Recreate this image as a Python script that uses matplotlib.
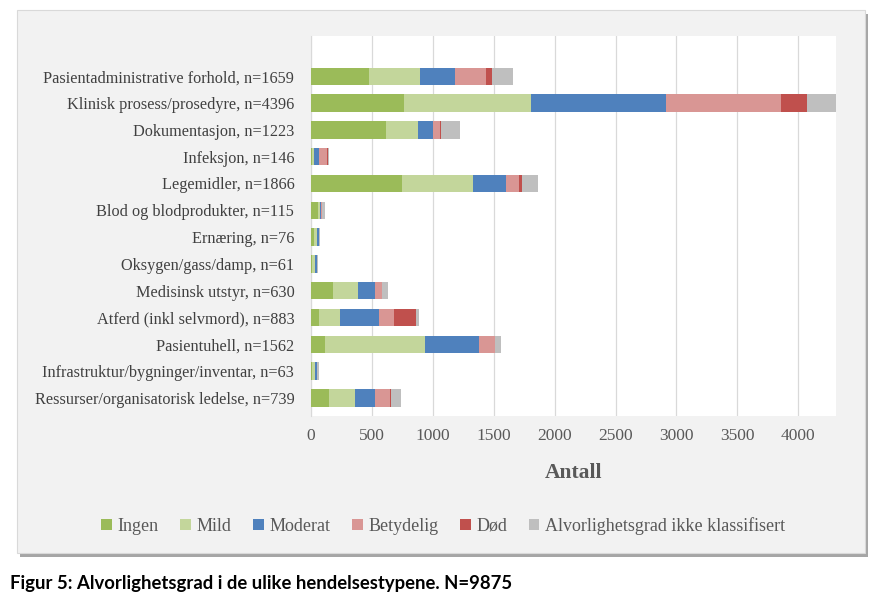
import matplotlib.pyplot as plt
import numpy as np
from matplotlib.patches import Rectangle

# kategorier (ovenfra og ned)
categories = [
    'Pasientadministrative forhold, n=1659',
    'Klinisk prosess/prosedyre, n=4396',
    'Dokumentasjon, n=1223',
    'Infeksjon, n=146',
    'Legemidler, n=1866',
    'Blod og blodprodukter, n=115',
    'Ernæring, n=76',
    'Oksygen/gass/damp, n=61',
    'Medisinsk utstyr, n=630',
    'Atferd (inkl selvmord), n=883',
    'Pasientuhell, n=1562',
    'Infrastruktur/bygninger/inventar, n=63',
    'Ressurser/organisatorisk ledelse, n=739',
]

ingen =     [477, 763, 619,  8, 746, 55, 22, 10, 181,  69, 118,  8, 151]
mild =      [417, 1047, 263, 15, 582, 20, 27, 25, 206, 170, 819, 27, 209]
moderat =   [286, 1103, 123, 43, 275, 10, 17, 16, 135, 316, 445, 14, 165]
betydelig = [253, 942,  56, 68, 105,  5,  3,  2,  58, 124, 126,  3, 121]
dod =       [56,  216,   9,  6,  23,  0,  0,  0,   5, 181,   4,  1,   8]
ikke_klass = [170, 325, 153, 6, 135, 25,  7,  8,  45,  23,  50, 10,  85]

series = ['Ingen', 'Mild', 'Moderat', 'Betydelig', 'Død',
          'Alvorlighetsgrad ikke klassifisert']
values = [ingen, mild, moderat, betydelig, dod, ikke_klass]
colors = ['#9bbb59', '#c3d69b', '#4f81bd', '#d99694', '#c0504d', '#bfbfbf']

plt.rcParams['font.family'] = ['Liberation Serif', 'DejaVu Serif']

fig = plt.figure(figsize=(8.77, 6), dpi=100)
W, H = 877, 600

# grå diagramramme med skygge
fig.patches.append(Rectangle((20 / W, 1 - 557 / H), 848 / W, 543 / H,
                             transform=fig.transFigure, facecolor='#a6a6a6',
                             edgecolor='none', zorder=-3))
fig.patches.append(Rectangle((17 / W, 1 - 553 / H), 848 / W, 543 / H,
                             transform=fig.transFigure, facecolor='#f2f2f2',
                             edgecolor='#d9d9d9', linewidth=0.8, zorder=-2))

ax = fig.add_axes([311 / W, 1 - 416 / H, 525 / W, 380 / H])
ax.set_facecolor('white')

y = np.arange(len(categories))
left = np.zeros(len(categories))
for name, vals, col in zip(series, values, colors):
    ax.barh(y, vals, left=left, height=0.65, color=col, label=name, zorder=3)
    left += np.array(vals)

ax.set_ylim(len(categories) - 0.33, -1.5)
ax.set_xlim(0, 4310)
ax.set_yticks(y)
ax.set_yticklabels(categories, fontsize=11.7, color='#404040')
ax.set_xticks(np.arange(0, 4001, 500))
ax.tick_params(axis='x', labelsize=12.5, colors='#595959', length=0, pad=9)
ax.tick_params(axis='y', length=0, pad=12)
ax.grid(axis='x', color='#d9d9d9', linewidth=0.9, zorder=0)
for s in ['top', 'right', 'bottom']:
    ax.spines[s].set_visible(False)
ax.spines['left'].set_color('#d9d9d9')

ax.set_xlabel('Antall', fontsize=15.5, fontweight='bold', color='#595959',
              labelpad=13)

fig.legend(loc='center', bbox_to_anchor=(443 / W, 1 - 526 / H), ncol=6,
           frameon=False, fontsize=13, handlelength=0.6, handleheight=0.6,
           handletextpad=0.3, columnspacing=1.2, labelcolor='#595959')

fig.text(10 / W, 1 - 583 / H, 'Figur 5: Alvorlighetsgrad i de ulike hendelsestypene. N=9875',
         fontsize=13.3, fontweight='bold', family=['Lato', 'DejaVu Sans'],
         va='center', ha='left')

fig.savefig('out.png', dpi=100, facecolor='white')
